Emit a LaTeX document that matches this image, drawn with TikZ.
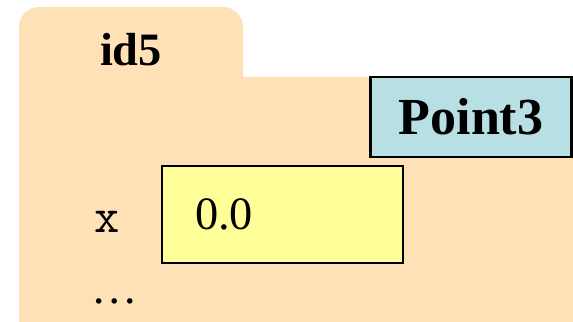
\documentclass[tikz,border=0pt]{standalone}
\usepackage{fontspec}
\setmainfont{Liberation Serif}
\definecolor{folderbg}{HTML}{FEE1B6}
\definecolor{classbg}{HTML}{B8DFE3}
\definecolor{valuebg}{HTML}{FFFF99}
\begin{document}
\begin{tikzpicture}[x=0.025cm, y=-0.025cm]
\tikzstyle{every node} = [inner sep=0pt, outer sep=0pt]
\tikzstyle{classbox} = [draw, line width=1.8pt, fill=classbg, minimum width=5.02cm, minimum height=2cm, font=\fontsize{37}{40}\selectfont\bfseries]
\tikzstyle{valuebox} = [draw, line width=1.5pt, fill=valuebg, minimum width=6.02cm, minimum height=2.42cm, text width=4.37cm, align=left, inner xsep=0.825cm, font=\fontsize{33}{38}\selectfont]
\useasboundingbox (0,0) rectangle (573,322);
% folder
\fill[folderbg, rounded corners=0.5cm] (19,7) rectangle (243,110);
\fill[folderbg] (19,77) rectangle (573,322);
\node[anchor=base, font=\fontsize{33}{38}\selectfont\bfseries] (id) at (131,65) {id5};
\node[classbox] (cls) at (471,117) {\raisebox{-0.1cm}{Point3}};
% field
\node[anchor=base, font=\fontsize{35}{40}\selectfont\ttfamily] (name) at (107,232) {x};
\node[valuebox, anchor=west] (val) at (162,214.5) {0.0};
\node[anchor=base, font=\fontsize{33}{38}\selectfont] (more) at (115,303) {…};
\end{tikzpicture}
\end{document}
